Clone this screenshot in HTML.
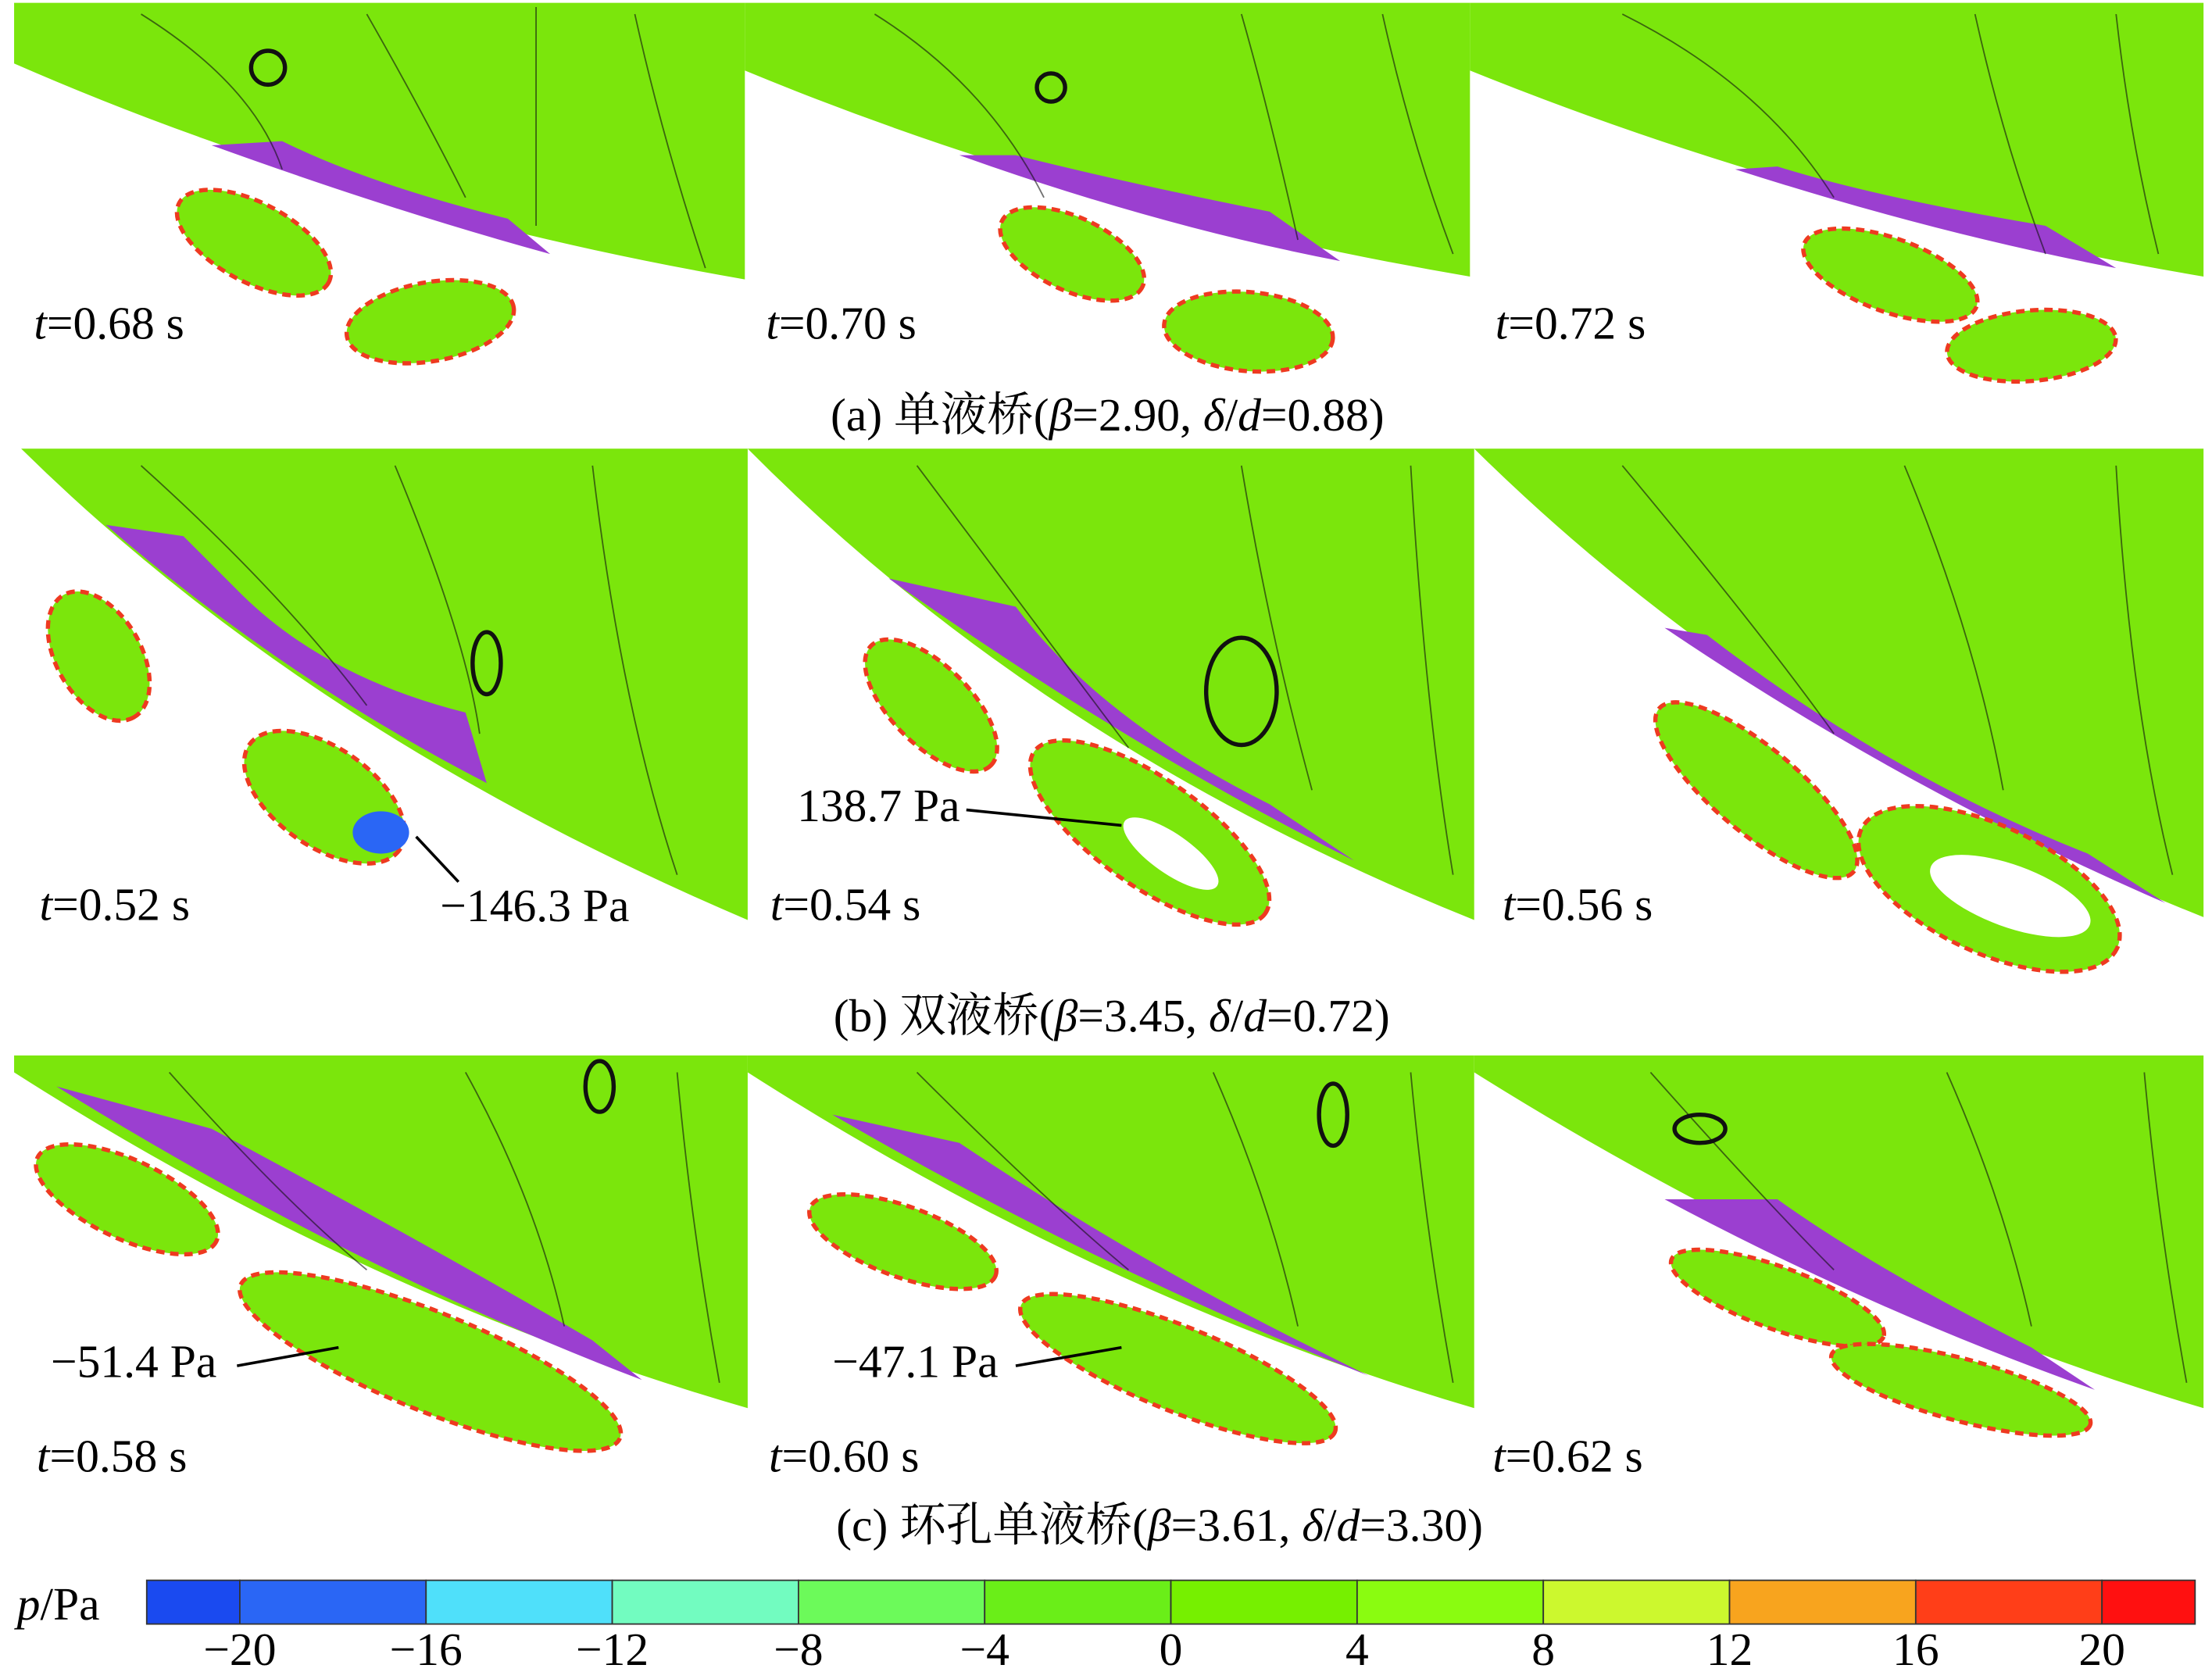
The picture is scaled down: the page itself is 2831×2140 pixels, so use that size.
<!DOCTYPE html>
<html><head><meta charset="utf-8"><style>html,body{margin:0;padding:0;background:#fff}svg{display:block}text{font-family:"Liberation Serif","Noto Serif CJK SC",serif}</style></head><body>
<svg width="2831" height="2140" viewBox="0 0 1568 1185" preserveAspectRatio="none" xmlns="http://www.w3.org/2000/svg">
<rect width="1568" height="1185" fill="#fff"/>
<g fill="#7be60c">
<path d="M10,2 L528,2 L528,198 Q250,150 10,45 Z"/>
<path d="M528,2 L1042,2 L1042,196 Q770,150 528,50 Z"/>
<path d="M1042,2 L1562,2 L1562,196 Q1290,150 1042,50 Z"/>
<path d="M15,318 L530,318 L530,652 Q220,520 15,318 Z"/>
<path d="M530,318 L1045,318 L1045,652 Q740,530 530,318 Z"/>
<path d="M1045,318 L1562,318 L1562,650 Q1260,530 1045,318 Z"/>
<path d="M10,748 L530,748 L530,998 Q260,920 10,760 Z"/>
<path d="M530,748 L1045,748 L1045,998 Q780,920 530,760 Z"/>
<path d="M1045,748 L1562,748 L1562,998 Q1300,920 1045,760 Z"/>
</g>
<g fill="#9b3fd0">
<path d="M150,103 Q280,150 390,180 L360,155 Q260,130 200,100 Z"/>
<path d="M680,110 Q820,160 950,185 L900,150 Q800,130 720,110 Z"/>
<path d="M1230,120 Q1370,165 1500,190 L1450,160 Q1330,140 1260,118 Z"/>
<path d="M75,372 Q200,480 345,555 L330,505 Q230,480 170,420 L130,380 Z"/>
<path d="M630,410 Q800,530 960,610 L900,570 Q780,510 720,430 Z"/>
<path d="M1180,445 Q1350,560 1535,640 L1480,605 Q1340,550 1210,450 Z"/>
<path d="M40,770 Q250,900 455,978 L420,950 Q300,880 150,800 Z"/>
<path d="M590,790 Q780,900 970,975 L920,950 Q800,890 680,810 Z"/>
<path d="M1180,850 Q1330,930 1485,985 L1440,955 Q1330,900 1260,850 Z"/>
</g>
<g fill="none" stroke="#111" stroke-width="1" opacity="0.6">
<path d="M100,10 Q180,60 200,120"/><path d="M260,10 Q300,80 330,140"/><path d="M380,5 L380,160"/><path d="M450,10 Q470,100 500,190"/>
<path d="M620,10 Q700,60 740,140"/><path d="M880,10 Q900,80 920,170"/><path d="M980,10 Q1000,100 1030,180"/>
<path d="M1150,10 Q1250,60 1300,140"/><path d="M1400,10 Q1420,100 1450,180"/><path d="M1500,10 Q1510,100 1530,180"/>
<path d="M100,330 Q200,420 260,500"/><path d="M280,330 Q330,450 340,520"/><path d="M420,330 Q440,500 480,620"/>
<path d="M650,330 Q740,450 800,530"/><path d="M880,330 Q900,450 930,560"/><path d="M1000,330 Q1010,500 1030,620"/>
<path d="M1150,330 Q1250,450 1300,520"/><path d="M1350,330 Q1400,450 1420,560"/><path d="M1500,330 Q1510,500 1540,620"/>
<path d="M120,760 Q200,850 260,900"/><path d="M330,760 Q380,850 400,940"/><path d="M480,760 Q490,870 510,980"/>
<path d="M650,760 Q740,850 800,900"/><path d="M860,760 Q900,850 920,940"/><path d="M1000,760 Q1010,870 1030,980"/>
<path d="M1170,760 Q1250,850 1300,900"/><path d="M1380,760 Q1420,850 1440,940"/><path d="M1520,760 Q1530,870 1550,980"/>
</g>
<g fill="none" stroke="#111" stroke-width="3">
<circle cx="190" cy="48" r="12"/><circle cx="745" cy="62" r="10"/>
<ellipse cx="345" cy="470" rx="10" ry="22"/><ellipse cx="880" cy="490" rx="25" ry="38"/>
<ellipse cx="425" cy="770" rx="10" ry="18"/><ellipse cx="945" cy="790" rx="10" ry="22"/><ellipse cx="1205" cy="800" rx="18" ry="10"/>
</g>
<g fill="#7be60c" stroke="#ee3a20" stroke-width="3" stroke-dasharray="6 4">
<ellipse cx="180" cy="172" rx="60" ry="28" transform="rotate(28 180 172)"/>
<ellipse cx="305" cy="228" rx="60" ry="28" transform="rotate(-10 305 228)"/>
<ellipse cx="760" cy="180" rx="55" ry="26" transform="rotate(25 760 180)"/>
<ellipse cx="885" cy="235" rx="60" ry="28" transform="rotate(5 885 235)"/>
<ellipse cx="1340" cy="195" rx="65" ry="26" transform="rotate(20 1340 195)"/>
<ellipse cx="1440" cy="245" rx="60" ry="25" transform="rotate(-5 1440 245)"/>
<ellipse cx="70" cy="465" rx="50" ry="30" transform="rotate(60 70 465)"/>
<ellipse cx="230" cy="565" rx="65" ry="35" transform="rotate(35 230 565)"/>
<ellipse cx="660" cy="500" rx="60" ry="28" transform="rotate(45 660 500)"/>
<ellipse cx="815" cy="590" rx="100" ry="38" transform="rotate(35 815 590)"/>
<ellipse cx="1245" cy="560" rx="90" ry="30" transform="rotate(40 1245 560)"/>
<ellipse cx="1410" cy="630" rx="100" ry="45" transform="rotate(25 1410 630)"/>
<ellipse cx="90" cy="850" rx="70" ry="28" transform="rotate(25 90 850)"/>
<ellipse cx="305" cy="965" rx="145" ry="35" transform="rotate(22 305 965)"/>
<ellipse cx="640" cy="880" rx="70" ry="25" transform="rotate(20 640 880)"/>
<ellipse cx="835" cy="970" rx="120" ry="30" transform="rotate(22 835 970)"/>
<ellipse cx="1260" cy="920" rx="80" ry="22" transform="rotate(20 1260 920)"/>
<ellipse cx="1390" cy="985" rx="95" ry="22" transform="rotate(15 1390 985)"/>
</g>
<g fill="#fff"><ellipse cx="830" cy="605" rx="40" ry="14" transform="rotate(35 830 605)"/><ellipse cx="1425" cy="635" rx="60" ry="22" transform="rotate(20 1425 635)"/></g>
<ellipse cx="270" cy="590" rx="20" ry="15" fill="#2a66f5"/>
<g stroke="#000" stroke-width="2" fill="none"><path d="M325,625 L295,593"/><path d="M685,574 L795,585"/><path d="M168,968 L240,955"/><path d="M720,968 L795,955"/></g>
<g font-size="33" fill="#000">
<text x="24" y="240"><tspan font-style="italic">t</tspan>=0.68 s</text>
<text x="543" y="240"><tspan font-style="italic">t</tspan>=0.70 s</text>
<text x="1060" y="240"><tspan font-style="italic">t</tspan>=0.72 s</text>
<text x="28" y="652"><tspan font-style="italic">t</tspan>=0.52 s</text>
<text x="546" y="652"><tspan font-style="italic">t</tspan>=0.54 s</text>
<text x="1065" y="652"><tspan font-style="italic">t</tspan>=0.56 s</text>
<text x="26" y="1043"><tspan font-style="italic">t</tspan>=0.58 s</text>
<text x="545" y="1043"><tspan font-style="italic">t</tspan>=0.60 s</text>
<text x="1058" y="1043"><tspan font-style="italic">t</tspan>=0.62 s</text>
<text x="312" y="653">−146.3 Pa</text>
<text x="565" y="582">138.7 Pa</text>
<text x="36" y="976">−51.4 Pa</text>
<text x="590" y="976">−47.1 Pa</text>
<text x="785" y="305" text-anchor="middle">(a) 单液桥(<tspan font-style="italic">β</tspan>=2.90, <tspan font-style="italic">δ</tspan>/<tspan font-style="italic">d</tspan>=0.88)</text>
<text x="788" y="731" text-anchor="middle">(b) 双液桥(<tspan font-style="italic">β</tspan>=3.45, <tspan font-style="italic">δ</tspan>/<tspan font-style="italic">d</tspan>=0.72)</text>
<text x="822" y="1092" text-anchor="middle">(c) 环孔单液桥(<tspan font-style="italic">β</tspan>=3.61, <tspan font-style="italic">δ</tspan>/<tspan font-style="italic">d</tspan>=3.30)</text>
<text x="12" y="1148"><tspan font-style="italic">p</tspan>/Pa</text>
</g>
<g stroke="#333" stroke-width="1">
<rect x="104" y="1120" width="66" height="31" fill="#1a4af0"/>
<rect x="170" y="1120" width="132" height="31" fill="#2a66f5"/>
<rect x="302" y="1120" width="132" height="31" fill="#4fe0fa"/>
<rect x="434" y="1120" width="132" height="31" fill="#72fcc0"/>
<rect x="566" y="1120" width="132" height="31" fill="#6cfa5a"/>
<rect x="698" y="1120" width="132" height="31" fill="#6aee18"/>
<rect x="830" y="1120" width="132" height="31" fill="#76f000"/>
<rect x="962" y="1120" width="132" height="31" fill="#8afc10"/>
<rect x="1094" y="1120" width="132" height="31" fill="#ccf82e"/>
<rect x="1226" y="1120" width="132" height="31" fill="#f8a41e"/>
<rect x="1358" y="1120" width="132" height="31" fill="#ff3e18"/>
<rect x="1490" y="1120" width="66" height="31" fill="#ff1010"/>
</g>
<g font-size="33" text-anchor="middle" fill="#000">
<text x="170" y="1180">−20</text><text x="302" y="1180">−16</text><text x="434" y="1180">−12</text><text x="566" y="1180">−8</text><text x="698" y="1180">−4</text><text x="830" y="1180">0</text><text x="962" y="1180">4</text><text x="1094" y="1180">8</text><text x="1226" y="1180">12</text><text x="1358" y="1180">16</text><text x="1490" y="1180">20</text>
</g>
</svg>
</body></html>
